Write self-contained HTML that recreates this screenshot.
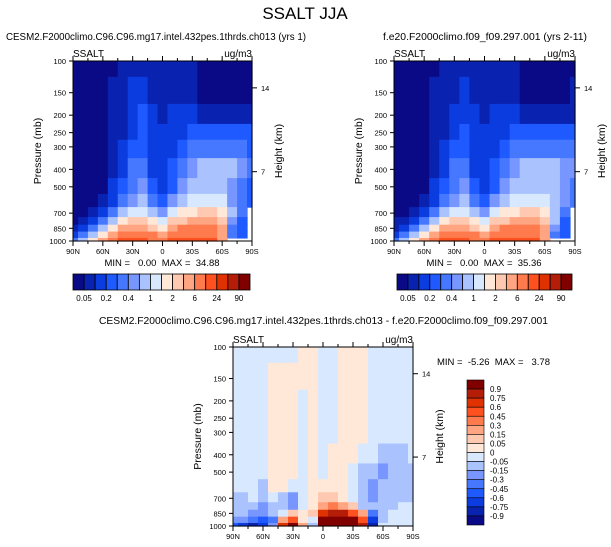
<!DOCTYPE html>
<html><head><meta charset="utf-8">
<style>
html,body{margin:0;padding:0;background:#fff;}
svg{display:block;font-family:"Liberation Sans",Helvetica,Arial,sans-serif;}
text{white-space:pre;}
</style></head>
<body>
<svg id="chart" width="611" height="547" viewBox="0 0 611 547">
<text x="305" y="19" font-size="17" text-anchor="middle">SSALT JJA</text>
<g id="root"></g>
</svg>
<script>
// ---- data ----
const lats = [90,80,70,60,50,40,30,20,10,0,-10,-20,-30,-40,-50,-60,-70,-80,-90];
const plevs = [100,150,200,250,300,400,500,600,700,775,850,925,1000];
const absLevels = [0.05,0.1,0.2,0.3,0.4,0.6,1,1.5,2,4,6,12,24,48,90];
const absLabels = ["0.05","0.2","0.4","1","2","6","24","90"];
const diffLevels = [-0.9,-0.75,-0.6,-0.45,-0.3,-0.15,-0.05,0,0.05,0.15,0.3,0.45,0.6,0.75,0.9];
const diffLabels = ["0.9","0.75","0.6","0.45","0.3","0.15","0.05","0","-0.05","-0.15","-0.3","-0.45","-0.6","-0.75","-0.9"];
const xTickLabels = ["90N","60N","30N","0","30S","60S","90S"];
const xTickLats = [90,60,30,0,-30,-60,-90];
const yTickVals = [100,150,200,250,300,400,500,700,850,1000];
const heightTicks = [14,7];
const heightTickP = [141,412];
const colors = ["#0a0a86","#0a22b0","#0a3ce0","#1e5aff","#4678ff","#7896ff","#aac3ff","#d7e8ff","#ffe8d7","#ffc8b0","#ffa582","#ff7a4d","#ff5020","#e03200","#b41e08","#800000"];

const ctl = [
[.03,.03,.03,.03,.03,.07,.07,.07,.07,.07,.07,.07,.07,.03,.03,.03,.03,.03,.03],
[.03,.03,.03,.03,.07,.07,.15,.15,.07,.07,.07,.07,.07,.03,.03,.03,.03,.03,.03],
[.03,.03,.03,.03,.07,.07,.15,.25,.15,.07,.15,.15,.15,.07,.07,.07,.07,.07,.07],
[.03,.03,.03,.03,.07,.07,.15,.25,.15,.15,.15,.15,.25,.25,.25,.25,.25,.25,.25],
[.03,.03,.03,.03,.07,.15,.25,.25,.15,.15,.15,.25,.35,.35,.35,.35,.35,.35,.25],
[.03,.03,.03,.03,.07,.15,.35,.35,.15,.15,.25,.35,.5,.8,.8,.8,.8,.5,.35],
[.03,.03,.03,.03,.15,.25,.35,.5,.25,.15,.25,.5,.8,.8,.8,.8,.5,.35,.25],
[.03,.03,.03,.07,.15,.35,.5,.8,.35,.25,.5,.8,1.2,1.2,1.2,1.2,.5,.35,.25],
[.03,.03,.07,.15,.35,.8,1.2,1.2,.8,.5,1.2,1.8,1.8,3,3,1.8,.8,.35,null],
[.03,.07,.15,.35,.8,1.8,3,3,1.8,1.2,3,3,5,5,5,3,.5,.25,null],
[.07,.15,.35,.8,1.8,5,5,5,3,1.8,5,9,9,9,9,5,.35,.25,null],
[.15,.35,.8,1.8,5,9,9,9,9,5,9,9,9,9,9,5,.35,.25,null],
[.35,.8,1.8,5,9,18,18,18,9,9,18,18,18,18,18,5,null,null,null]];

const exp = [
[.03,.03,.03,.03,.03,.07,.07,.07,.07,.07,.07,.07,.07,.03,.03,.03,.03,.03,.03],
[.03,.03,.03,.03,.07,.07,.07,.15,.07,.07,.07,.07,.07,.03,.03,.03,.03,.03,.07],
[.03,.03,.03,.03,.07,.07,.15,.15,.15,.07,.15,.15,.15,.07,.07,.07,.07,.07,.07],
[.03,.03,.03,.03,.07,.07,.15,.25,.15,.15,.15,.15,.25,.25,.25,.25,.25,.25,.25],
[.03,.03,.03,.03,.07,.15,.25,.25,.15,.15,.15,.25,.35,.35,.35,.35,.35,.35,.35],
[.03,.03,.03,.03,.07,.15,.35,.35,.15,.15,.25,.35,.5,.8,.8,.8,.8,.5,.5],
[.03,.03,.03,.03,.15,.25,.35,.5,.25,.15,.25,.5,.8,.8,.8,.8,.8,.5,.35],
[.03,.03,.03,.07,.15,.35,.5,.8,.35,.25,.5,.8,1.2,1.2,1.2,1.2,.8,.5,.35],
[.03,.03,.07,.15,.35,.8,1.2,1.2,.8,.5,1.2,1.8,1.8,3,3,1.8,.8,.35,null],
[.07,.07,.15,.35,.8,1.8,3,3,1.8,1.2,3,3,5,5,5,3,.8,.25,null],
[.07,.15,.35,.8,1.8,5,5,5,3,1.8,5,9,9,9,9,5,.5,.25,null],
[.15,.35,.8,1.8,5,9,9,9,9,5,9,9,9,9,9,5,.35,.25,null],
[.35,.8,1.8,5,9,18,18,18,9,9,18,18,18,18,18,5,null,null,null]];

const diff = [
[-.02,-.02,-.02,-.02,-.02,-.02,-.02,.02,.02,-.02,-.02,.02,.02,.02,-.02,-.02,-.02,-.02,-.02],
[-.02,-.02,-.02,-.02,.02,.02,.02,.02,.02,-.02,-.02,.02,.02,.02,-.02,-.02,-.02,-.02,-.02],
[-.02,-.02,-.02,-.02,.02,.02,.02,-.02,.02,-.02,-.02,.02,.02,.02,-.02,-.02,-.02,-.02,-.02],
[-.02,-.02,-.02,-.02,.02,.02,.02,-.02,.02,-.02,-.02,.02,.02,.02,-.02,-.02,-.02,-.02,-.02],
[-.02,-.02,-.02,-.02,.02,.02,.02,-.02,.02,-.02,-.02,.02,.02,.02,-.02,-.02,-.02,-.02,-.02],
[-.02,-.02,-.02,-.02,.02,.02,.02,-.02,.02,-.02,.02,.02,.02,-.02,-.02,-.1,-.1,-.1,-.02],
[-.02,-.02,-.02,-.02,.02,.02,.02,-.02,.02,-.02,.02,.02,-.02,-.1,-.1,-.2,-.1,-.1,-.1],
[-.02,-.02,-.02,-.1,.02,.02,-.02,-.02,.02,.02,.02,.02,-.02,-.1,-.2,-.1,-.1,-.1,-.1],
[-.1,-.1,-.02,-.1,-.02,-.1,-.2,-.02,.02,.1,.1,.02,-.02,-.1,-.2,-.1,-.1,-.1,-.1],
[-.1,-.1,-.1,-.2,-.1,-.1,-.2,-.02,.02,.2,.4,.2,.1,-.1,-.1,-.1,-.1,-.02,-.02],
[-.1,-.1,-.2,-.2,-.1,-.02,.1,.02,.1,.7,.8,.8,.5,.2,-.4,-.1,-.02,-.02,-.02],
[-.2,-.2,-.4,-.5,-.4,.2,.5,.02,-.02,1.5,1.5,1.5,1.5,.5,-.7,-.1,-.02,-.02,-.02],
[-.5,-.7,-.8,-.7,-.2,.7,1.5,.2,-.1,1.5,1.5,1.5,1.5,.8,-.8,-.02,-.02,-.02,-.02]];

// ---- drawing ----
const NS = "http://www.w3.org/2000/svg";
const root = document.getElementById('root');
function mk(tag, attrs, parent, txt){
  const e = document.createElementNS(NS, tag);
  for (const k in attrs) e.setAttribute(k, attrs[k]);
  if (txt !== undefined) e.textContent = txt;
  (parent || root).appendChild(e);
  return e;
}
function levelIndex(v, levels){ let i=0; while(i<levels.length && v>=levels[i]) i++; return i; }

function drawPanel(P){
  const g = mk('g', {});
  
  
  const X = lat => P.x0 + (90 - lat) / 180 * P.w;
  const Y = p => P.y0 + Math.log10(p / 100) * P.h;
  const bnd = [100];
  for (let i = 0; i < plevs.length - 1; i++) bnd.push(Math.sqrt(plevs[i] * plevs[i+1]));
  bnd.push(1000);
  for (let r = 0; r < plevs.length; r++){
    for (let c = 0; c < lats.length; c++){
      const v = P.data[r][c];
      if (v === null) continue;
      const la = Math.min(90, lats[c] + 5), lb = Math.max(-90, lats[c] - 5);
      const x1 = X(la), x2 = X(lb), y1 = Y(bnd[r]), y2 = Y(bnd[r+1]);
      const cell = mk('rect', {x:x1, y:y1, width:x2-x1+0.6, height:y2-y1+0.6, fill:colors[levelIndex(v, P.levels)]}, g);
      
      
    }
  }
  const fr = mk('rect', {x:P.x0, y:P.y0, width:P.w, height:P.h, fill:'none', stroke:'#000', 'stroke-width':1}, g);
  
  
  yTickVals.forEach(p => {
    const y = Y(p);
    mk('line', {x1:P.x0-4, x2:P.x0, y1:y, y2:y, stroke:'#000'}, g);
    const t = mk('text', {x:P.x0-7, y:y+3, 'font-size':7.5, 'text-anchor':'end'}, g, String(p));
    
    
  });
  for (let la = 90; la >= -90; la -= 15){
    const x = X(la);
    mk('line', {x1:x, x2:x, y1:P.y0+P.h, y2:P.y0+P.h+(la%30===0?5:3), stroke:'#000'}, g);
    mk('line', {x1:x, x2:x, y1:P.y0, y2:P.y0-(la%30===0?5:3), stroke:'#000'}, g);
  }
  xTickLats.forEach((la, i) => {
    const t = mk('text', {x:X(la), y:P.y0+P.h+13, 'font-size':7.5, 'text-anchor':'middle'}, g, xTickLabels[i]);
    
    
  });
  heightTicks.forEach((h, i) => {
    const y = Y(heightTickP[i]);
    mk('line', {x1:P.x0+P.w, x2:P.x0+P.w+5, y1:y, y2:y, stroke:'#000'}, g);
    const t = mk('text', {x:P.x0+P.w+9, y:y+3, 'font-size':7.5}, g, String(h));
    
    
  });
  const yl = mk('text', {transform:`translate(${P.x0-32},${P.y0+P.h/2}) rotate(-90)`, 'font-size':10.5, 'text-anchor':'middle'}, g, 'Pressure (mb)');
  
  
  const hl = mk('text', {transform:`translate(${P.x0+P.w+30},${P.y0+P.h/2}) rotate(-90)`, 'font-size':10.5, 'text-anchor':'middle'}, g, 'Height (km)');
  
  
  const ls = mk('text', {x:P.x0, y:P.y0-4, 'font-size':10}, g, 'SSALT');
  
  
  const us = mk('text', {x:P.x0+P.w, y:P.y0-4, 'font-size':10, 'text-anchor':'end'}, g, 'ug/m3');
  
  
  const tt = mk('text', {x:P.tx, y:P.ty, 'font-size':10, textLength:P.tl, lengthAdjust:'spacingAndGlyphs'}, g, P.title);
  
  
  const mm = mk('text', {x:P.mx, y:P.my, 'font-size':9.5, 'text-anchor':P.ma}, g, P.minmax);
  
  
}

function hColorbar(x0, y0, w, h, name){
  const g = mk('g', {});
  
  
  const bw = w / colors.length;
  colors.forEach((c, i) => {
    const r = mk('rect', {x:x0+i*bw, y:y0, width:bw, height:h, fill:c, stroke:'#000', 'stroke-width':0.8}, g);
    
    
  });
  absLabels.forEach((l, i) => {
    const t = mk('text', {x:x0+(1+2*i)*bw, y:y0+h+11, 'font-size':8, 'text-anchor':'middle'}, g, l);
    
    
  });
}
function vColorbar(x0, y0, w, h, name){
  const g = mk('g', {});
  
  
  const bh = h / colors.length;
  for (let i = 0; i < colors.length; i++){
    const r = mk('rect', {x:x0, y:y0+i*bh, width:w, height:bh, fill:colors[colors.length-1-i], stroke:'#000', 'stroke-width':0.6}, g);
    
    
  }
  diffLabels.forEach((l, i) => {
    const t = mk('text', {x:x0+w+6, y:y0+(i+1)*bh+3, 'font-size':8}, g, l);
    
    
  });
}

drawPanel({name:'control-panel', data:ctl, levels:absLevels, x0:73, y0:61, w:179, h:180,
  title:'CESM2.F2000climo.C96.C96.mg17.intel.432pes.1thrds.ch013 (yrs 1)', tx:6, ty:40, tl:300,
  minmax:'MIN =   0.00  MAX =  34.88', mx:162, my:266, ma:'middle'});
drawPanel({name:'reference-panel', data:exp, levels:absLevels, x0:394, y0:61, w:181, h:180,
  title:'f.e20.F2000climo.f09_f09.297.001 (yrs 2-11)', tx:383, ty:40, tl:204,
  minmax:'MIN =   0.00  MAX =  35.36', mx:484, my:266, ma:'middle'});
drawPanel({name:'difference-panel', data:diff, levels:diffLevels, x0:233, y0:347, w:180, h:179,
  title:'CESM2.F2000climo.C96.C96.mg17.intel.432pes.1thrds.ch013 - f.e20.F2000climo.f09_f09.297.001', tx:99, ty:324, tl:449,
  minmax:'MIN =  -5.26  MAX =   3.78', mx:437, my:365, ma:'start'});
hColorbar(73, 274, 177, 16, 'control-colorbar');
hColorbar(397, 274, 175, 16, 'reference-colorbar');
vColorbar(467, 380, 17, 145, 'difference-colorbar');
</script>
</body></html>
